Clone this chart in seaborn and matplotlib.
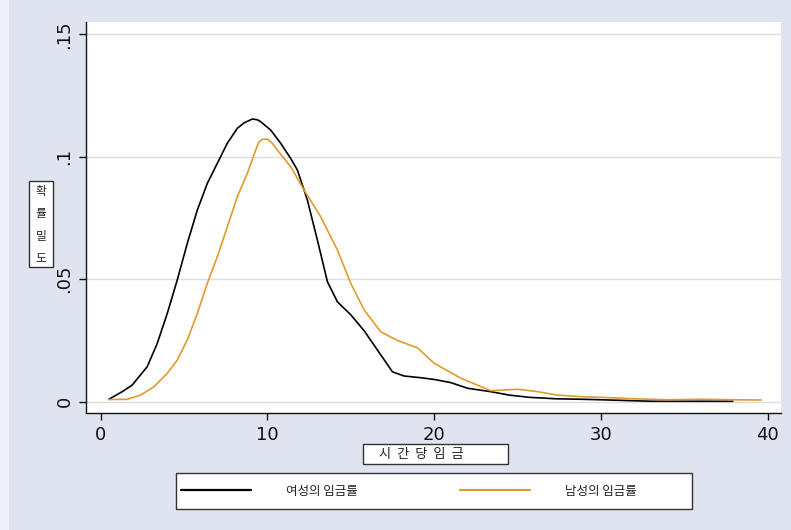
import numpy as np
import pandas as pd
import matplotlib
matplotlib.use("Agg")
import matplotlib.pyplot as plt
from matplotlib.patches import Rectangle
from matplotlib.lines import Line2D
import seaborn as sns

# Kernel density of hourly wage (시간당 임금), by sex
women_wage = [0.5, 1.3, 1.9, 2.8, 3.4, 4.0, 4.6, 5.2, 5.8, 6.4, 7.0, 7.6, 8.2,
              8.6, 9.1, 9.4, 9.6, 10.2, 10.8, 11.4, 11.8, 12.4, 13.0, 13.6, 14.2,
              15.0, 15.8, 16.6, 17.5, 18.2, 19.2, 20.0, 21.0, 22.0, 23.4, 24.5,
              25.7, 27.3, 28.9, 30.0, 31.5, 33.0, 35.0, 37.9]
women_dens = [0.0010, 0.0041, 0.0068, 0.0143, 0.0238, 0.0360, 0.0497, 0.0646,
              0.0782, 0.0891, 0.0973, 0.1055, 0.1116, 0.1138, 0.1154, 0.1151,
              0.1143, 0.1109, 0.1055, 0.0993, 0.0946, 0.0823, 0.0660, 0.0490,
              0.0408, 0.0355, 0.0290, 0.0211, 0.0122, 0.0105, 0.0098, 0.0091,
              0.0078, 0.0055, 0.0041, 0.0027, 0.0018, 0.0012, 0.0010, 0.0008,
              0.0005, 0.0002, 0.0002, 0.0002]

men_wage = [0.5, 1.6, 2.4, 3.2, 4.0, 4.6, 5.2, 5.8, 6.4, 7.0, 7.6, 8.2, 8.8,
            9.3, 9.5, 9.7, 10.0, 10.3, 10.6, 11.4, 12.2, 13.2, 14.2, 15.0, 15.8,
            16.8, 17.8, 19.0, 20.0, 21.6, 23.4, 25.0, 26.2, 27.4, 29.0, 30.0,
            32.0, 34.0, 36.0, 38.0, 39.6]
men_dens = [0.0009, 0.0010, 0.0027, 0.0061, 0.0116, 0.0170, 0.0252, 0.0360,
            0.0483, 0.0592, 0.0714, 0.0837, 0.0932, 0.1027, 0.1061, 0.1071,
            0.1072, 0.1055, 0.1027, 0.0959, 0.0864, 0.0755, 0.0619, 0.0483,
            0.0375, 0.0285, 0.0250, 0.0220, 0.0157, 0.0096, 0.0045, 0.0051,
            0.0041, 0.0027, 0.0020, 0.0018, 0.0012, 0.0008, 0.0010, 0.0008,
            0.0007]

series_labels = ["여성의 임금률", "남성의 임금률"]
series_colors = ["#000000", "#E29A2E"]
x_ticks = [0, 10, 20, 30, 40]
y_ticks = [0, 0.05, 0.10, 0.15]
y_tick_labels = ["0", ".05", ".1", ".15"]
x_title = "시  간  당  임  금"
y_title = "확\n률\n밀\n도"

df = pd.concat([
    pd.DataFrame({"wage": women_wage, "density": women_dens, "group": series_labels[0]}),
    pd.DataFrame({"wage": men_wage, "density": men_dens, "group": series_labels[1]}),
], ignore_index=True)

sns.set_theme(style="white")
plt.rcParams["font.family"] = ["Noto Sans CJK KR", "DejaVu Sans"]

W, H = 791, 530
bg = "#DFE4F0"
fig = plt.figure(figsize=(W / 100, H / 100), dpi=100, facecolor=bg)

# lighter strip on the left edge of the canvas
fig.patches.append(Rectangle((0, 0), 9 / W, 1, transform=fig.transFigure,
                             facecolor="#EEF1F8", edgecolor="none", zorder=0))

def fx(px):
    return px / W

def fy(py):
    return 1 - py / H

ax = fig.add_axes([fx(86), fy(413), fx(781) - fx(86), fy(22) - fy(413)])
ax.set_facecolor("white")

sns.lineplot(data=df, x="wage", y="density", hue="group",
             palette=dict(zip(series_labels, series_colors)),
             linewidth=1.2, ax=ax, legend=False, sort=True, estimator=None)

ax.set_xlim(-0.87, 40.79)
ax.set_ylim(-0.0046, 0.155)
ax.set_xticks(x_ticks)
ax.set_xticklabels([str(t) for t in x_ticks])
ax.set_yticks(y_ticks)
ax.set_yticklabels(y_tick_labels, rotation=90, va="center")
ax.set_xlabel("")
ax.set_ylabel("")

for yv in y_ticks:
    ax.axhline(yv, color="#DDDDDD", lw=1.0, zorder=0)

for s in ["top", "right"]:
    ax.spines[s].set_visible(False)
for s in ["left", "bottom"]:
    ax.spines[s].set_color("#111111")
    ax.spines[s].set_linewidth(1.0)

ax.tick_params(axis="both", which="major", direction="out", length=5, width=1,
               color="#111111", labelsize=13, labelcolor="#111111", pad=4,
               bottom=True, left=True)
for lab in ax.get_xticklabels() + ax.get_yticklabels():
    lab.set_family(["DejaVu Sans"])

# y title box
fig.patches.append(Rectangle((fx(29), fy(267)), fx(53) - fx(29), fy(181) - fy(267),
                             transform=fig.transFigure, facecolor="white",
                             edgecolor="#333333", lw=1.0, zorder=2))
fig.text(fx(41), fy(225), y_title, ha="center", va="center", fontsize=8.5,
         linespacing=1.95, color="#222222", zorder=3)

# x title box
fig.patches.append(Rectangle((fx(363), fy(464)), fx(508) - fx(363), fy(444) - fy(464),
                             transform=fig.transFigure, facecolor="white",
                             edgecolor="#333333", lw=1.0, zorder=2))
fig.text(fx(379), fy(454.5), x_title, ha="left", va="center", fontsize=9.5,
         color="#222222", zorder=3)

# legend box
fig.patches.append(Rectangle((fx(176), fy(509)), fx(692) - fx(176), fy(473) - fy(509),
                             transform=fig.transFigure, facecolor="white",
                             edgecolor="#333333", lw=1.0, zorder=2))
handles = [Line2D([], [], color=c, lw=1.6) for c in series_colors]
leg = fig.legend(handles, series_labels, loc="center left",
                 bbox_to_anchor=(fx(181), fy(491)), ncol=2, frameon=False,
                 fontsize=9, handlelength=5.6, handletextpad=2.8,
                 columnspacing=8.2, borderpad=0, borderaxespad=0)
leg.set_zorder(3)
for t in leg.get_texts():
    t.set_color("#222222")

fig.savefig("out.png", dpi=100, facecolor=bg)
